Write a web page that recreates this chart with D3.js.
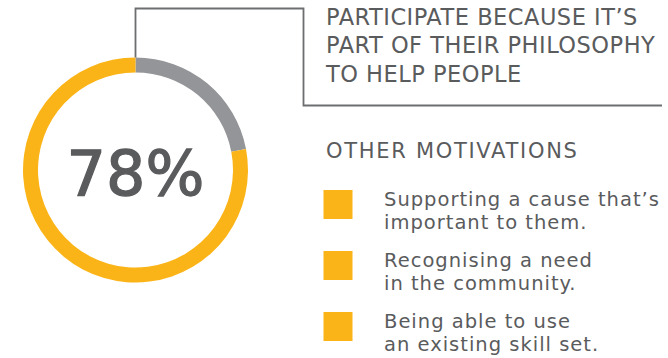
<!DOCTYPE html>
<html>
<head>
<meta charset="utf-8">
<script src="https://cdn.jsdelivr.net/npm/d3@7"></script>
<style>
  html, body { margin: 0; padding: 0; background: #fff; }
  svg { display: block; }
  text { font-family: "DejaVu Sans", sans-serif; fill: #5a5b5d; }
</style>
</head>
<body>
<svg id="chart" width="668" height="358"></svg>
<script>
// Share of respondents
const shareLabels = ["Philosophy to help people", "Other"];
const shareValues = [78, 22];

const headlineLines = ["PARTICIPATE BECAUSE IT\u2019S", "PART OF THEIR PHILOSOPHY", "TO HELP PEOPLE"];
const otherTitle = "OTHER MOTIVATIONS";
const motivations = [
  ["Supporting a cause that\u2019s", "important to them."],
  ["Recognising a need", "in the community."],
  ["Being able to use", "an existing skill set."]
];

const yellow = "#fbb417";
const grey = "#939598";
const lineColor = "#6d6e70";
const textColor = "#5a5b5d";

const svg = d3.select("#chart");

// Ring
const cx = 135.5, cy = 170, rOuter = 112.5, rInner = 97.5;
// grey slice first, starting at 12 o'clock, then the highlighted share
const pie = d3.pie().sort(null).value(d => d.v);
const slices = pie([{ k: shareLabels[1], v: shareValues[1], c: grey },
                    { k: shareLabels[0], v: shareValues[0], c: yellow }]);
const arc = d3.arc().innerRadius(rInner).outerRadius(rOuter);
const ring = svg.append("g").attr("transform", `translate(${cx},${cy})`);
ring.selectAll("path").data(slices).join("path")
  .attr("d", arc).attr("fill", d => d.data.c);

ring.append("text")
  .attr("text-anchor", "middle")
  .attr("y", 25)
  .attr("font-size", 62)
  .style("fill", textColor)
  .attr("stroke", textColor)
  .attr("stroke-width", 1.3)
  .text(shareValues[0] + "%");

// Leader from top of the ring to the headline block
const leader = d3.line();
svg.append("path")
  .attr("d", leader([[cx, cy - rOuter], [cx, 8.5], [303.5, 8.5], [303.5, 105.5], [662, 105.5]]))
  .attr("fill", "none")
  .attr("stroke", lineColor)
  .attr("stroke-width", 1.8);

// Headline
const yHead = d3.scalePoint().domain(d3.range(headlineLines.length)).range([24.5, 82]);
svg.append("g").selectAll("text").data(headlineLines).join("text")
  .attr("x", 326)
  .attr("y", (d, i) => yHead(i))
  .attr("font-size", 22.5)
  .attr("letter-spacing", 0.5)
  .text(d => d);

svg.append("text")
  .attr("x", 326).attr("y", 158)
  .attr("font-size", 21)
  .attr("letter-spacing", 1.7)
  .text(otherTitle);

// Motivation list
const yItem = d3.scalePoint().domain(d3.range(motivations.length)).range([190, 312]);
const items = svg.append("g").selectAll("g").data(motivations).join("g")
  .attr("transform", (d, i) => `translate(0,${yItem(i)})`);
items.append("rect")
  .attr("x", 323.5).attr("y", 0)
  .attr("width", 29).attr("height", 29)
  .attr("fill", yellow);
items.each(function (lines) {
  d3.select(this).selectAll("text").data(lines).join("text")
    .attr("x", 384)
    .attr("y", (d, j) => 15.5 + j * 23.5)
    .attr("font-size", 19.5)
    .attr("letter-spacing", 1)
    .text(d => d);
});
</script>
</body>
</html>
